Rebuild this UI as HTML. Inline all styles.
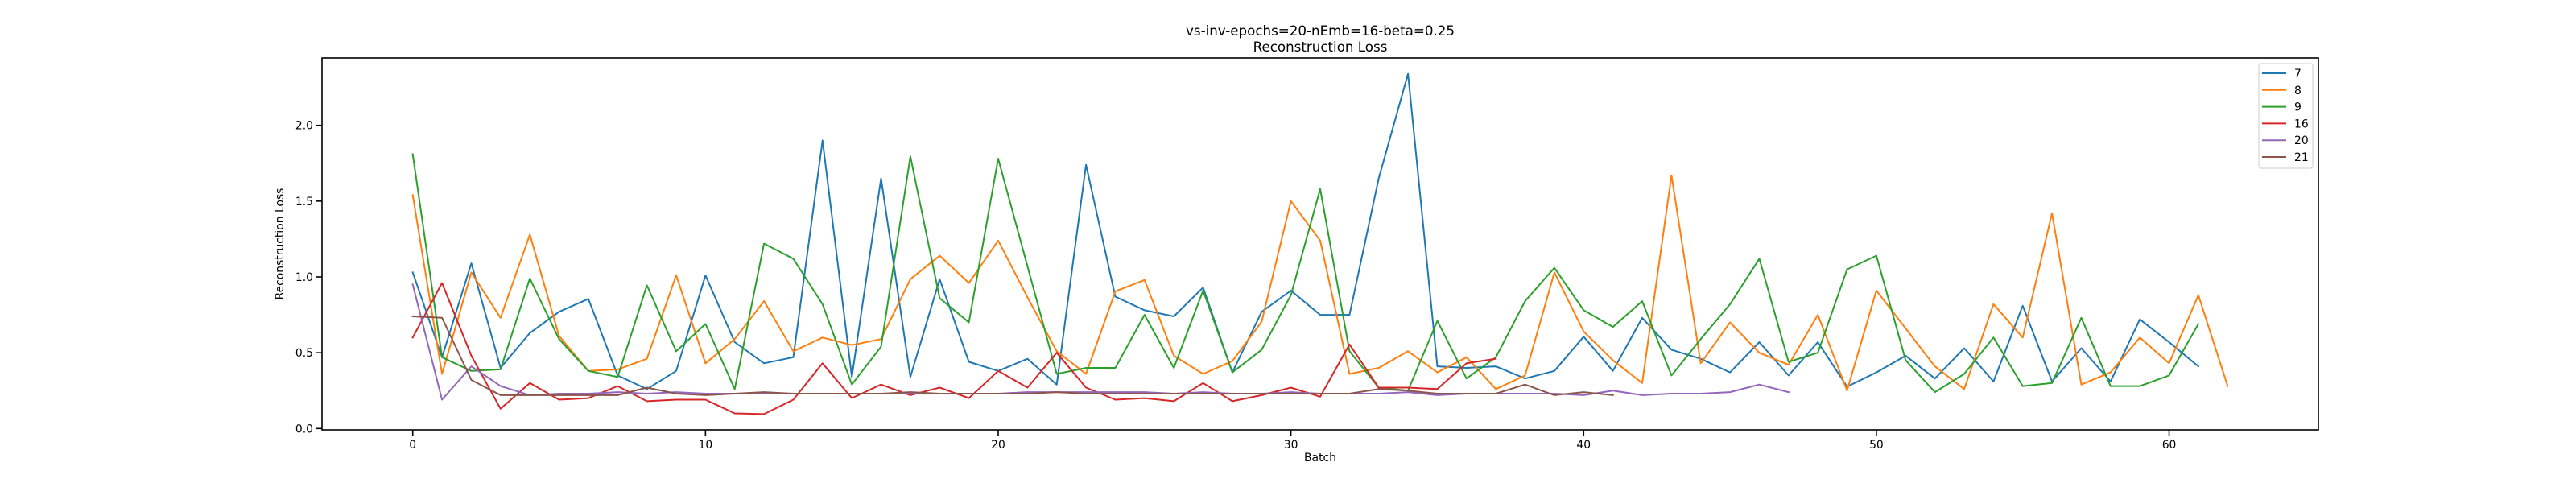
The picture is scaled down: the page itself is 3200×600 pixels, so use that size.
<!DOCTYPE html>
<html><head><meta charset="utf-8"><style>
html,body{margin:0;padding:0;background:#fff;}
svg{display:block;font-family:"DejaVu Sans","Liberation Sans",sans-serif;}
</style></head><body>
<svg id="chart" width="3200" height="600" viewBox="0 0 3200 600" xmlns="http://www.w3.org/2000/svg">
<rect width="3200" height="600" fill="#fff"/>
<text x="1640" y="44" font-size="16.7" text-anchor="middle">vs-inv-epochs=20-nEmb=16-beta=0.25</text>
<text x="1640" y="64" font-size="16.7" text-anchor="middle">Reconstruction Loss</text>
<g id="plot"></g>
<text x="1640" y="573" font-size="13.9" text-anchor="middle">Batch</text>
<text x="0" y="0" font-size="13.9" text-anchor="middle" transform="translate(352,303) rotate(-90)">Reconstruction Loss</text>
</svg>
<script>
const seriesNames = ["7","8","9","16","20","21"];
const seriesColors = ["#1f77b4","#ff7f0e","#2ca02c","#d62728","#9467bd","#8c564b"];
const s7 = [1.03,0.47,1.09,0.40,0.63,0.77,0.855,0.35,0.26,0.38,1.01,0.57,0.43,0.47,1.90,0.34,1.65,0.34,0.985,0.44,0.38,0.46,0.29,1.74,0.87,0.78,0.74,0.93,0.37,0.77,0.91,0.75,0.75,1.65,2.34,0.41,0.40,0.41,0.33,0.38,0.606,0.38,0.73,0.52,0.46,0.37,0.57,0.35,0.57,0.276,0.37,0.48,0.33,0.53,0.31,0.81,0.31,0.53,0.31,0.72,0.57,0.41];
const s8 = [1.54,0.36,1.03,0.73,1.28,0.61,0.38,0.39,0.46,1.01,0.43,0.59,0.84,0.51,0.60,0.55,0.59,0.985,1.14,0.96,1.24,0.865,0.51,0.36,0.905,0.98,0.48,0.36,0.445,0.705,1.50,1.24,0.36,0.40,0.51,0.37,0.47,0.26,0.35,1.03,0.64,0.45,0.30,1.67,0.43,0.70,0.50,0.42,0.75,0.25,0.91,0.66,0.41,0.26,0.82,0.60,1.42,0.29,0.37,0.60,0.43,0.88,0.28];
const s9 = [1.81,0.47,0.38,0.39,0.99,0.59,0.38,0.34,0.945,0.51,0.69,0.26,1.22,1.12,0.82,0.29,0.54,1.795,0.86,0.70,1.78,1.07,0.36,0.40,0.40,0.75,0.40,0.91,0.37,0.52,0.88,1.58,0.51,0.27,0.25,0.71,0.33,0.47,0.84,1.06,0.78,0.67,0.84,0.35,0.59,0.82,1.12,0.44,0.50,1.05,1.14,0.45,0.24,0.36,0.60,0.28,0.30,0.73,0.28,0.28,0.35,0.69];
const s16 = [0.60,0.96,0.48,0.13,0.30,0.19,0.20,0.28,0.18,0.19,0.19,0.10,0.095,0.19,0.43,0.20,0.29,0.22,0.27,0.20,0.38,0.27,0.50,0.27,0.19,0.20,0.18,0.30,0.18,0.22,0.27,0.21,0.555,0.27,0.27,0.26,0.43,0.46];
const s20 = [0.95,0.19,0.41,0.28,0.22,0.23,0.23,0.24,0.23,0.24,0.23,0.23,0.23,0.23,0.23,0.23,0.23,0.23,0.23,0.23,0.23,0.24,0.24,0.24,0.24,0.24,0.23,0.24,0.23,0.23,0.24,0.23,0.23,0.23,0.24,0.22,0.23,0.23,0.23,0.23,0.22,0.25,0.22,0.23,0.23,0.24,0.29,0.24];
const s21 = [0.74,0.73,0.32,0.22,0.22,0.22,0.22,0.22,0.27,0.23,0.22,0.23,0.24,0.23,0.23,0.23,0.23,0.24,0.23,0.23,0.23,0.23,0.24,0.23,0.23,0.23,0.23,0.23,0.23,0.23,0.23,0.23,0.23,0.26,0.25,0.23,0.23,0.23,0.29,0.22,0.24,0.22];
const seriesValues = [s7,s8,s9,s16,s20,s21];
const xTicks = [0,10,20,30,40,50,60];
const yTicks = [0.0,0.5,1.0,1.5,2.0];
const yTickLabels = ["0.0","0.5","1.0","1.5","2.0"];

const AX={l:400,r:2880,t:72,b:534};
const X0=-3.1, X1=65.1, Y0=-0.009, Y1=2.4445;
function xs(v){return AX.l+(v-X0)/(X1-X0)*(AX.r-AX.l);}
function ys(v){return AX.b-(v-Y0)/(Y1-Y0)*(AX.b-AX.t);}
const NS="http://www.w3.org/2000/svg";
const g=document.getElementById('plot');
function mk(t,a,p){const e=document.createElementNS(NS,t);for(const k in a)e.setAttribute(k,a[k]);(p||g).appendChild(e);return e;}

seriesValues.forEach((vals,si)=>{
  const pts=vals.map((v,i)=>xs(i).toFixed(1)+","+ys(v).toFixed(1)).join(" ");
  const pl=mk('polyline',{points:pts,fill:'none',stroke:seriesColors[si],'stroke-width':2,'stroke-linejoin':'round','stroke-linecap':'square'});
  
  
});

const frame=mk('rect',{x:AX.l,y:AX.t,width:AX.r-AX.l,height:AX.b-AX.t,fill:'none',stroke:'#000','stroke-width':1.6});



xTicks.forEach(v=>{
  const x=xs(v);
  const tk=mk('line',{x1:x,x2:x,y1:AX.b,y2:AX.b+7,stroke:'#000','stroke-width':1.6});
  
  
  const tl=mk('text',{x:x,y:AX.b+23,'font-size':13.9,'text-anchor':'middle'});
  tl.textContent=String(v);
  
  
});
yTicks.forEach((v,i)=>{
  const y=ys(v);
  const tk=mk('line',{x1:AX.l-7,x2:AX.l,y1:y,y2:y,stroke:'#000','stroke-width':1.6});
  
  
  const tl=mk('text',{x:AX.l-11,y:y+5,'font-size':13.9,'text-anchor':'end'});
  tl.textContent=yTickLabels[i];
  
  
});

const lg=mk('g',{});


mk('rect',{x:2806,y:79,width:67,height:130,rx:3,fill:'#fff','fill-opacity':0.8,stroke:'#ccc','stroke-width':1},lg);
seriesNames.forEach((n,i)=>{
  const y=91+i*20.8;
  const en=mk('g',{},lg);
  
  
  mk('line',{x1:2810,x2:2840,y1:y,y2:y,stroke:seriesColors[i],'stroke-width':2},en);
  const t=mk('text',{x:2850,y:y+5,'font-size':13.9},en);
  t.textContent=n;
});
</script>
</body></html>
